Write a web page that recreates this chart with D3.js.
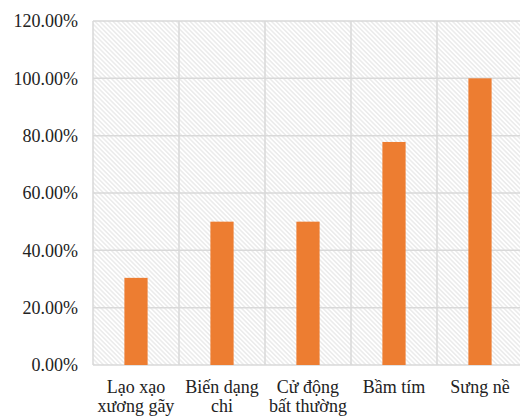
<!DOCTYPE html>
<html>
<head>
<meta charset="utf-8">
<script src="https://cdn.jsdelivr.net/npm/d3@7"></script>
</head>
<body style="margin:0">
<svg id="chart" width="520" height="417"></svg>
<script>
// Categories (two-line labels) and their percentages
const categories = [
  ["Lạo xạo", "xương gãy"],
  ["Biến dạng", "chi"],
  ["Cử động", "bất thường"],
  ["Bầm tím"],
  ["Sưng nề"]
];
const values = [30.4, 50, 50, 77.8, 100];
const yTicks = [0, 20, 40, 60, 80, 100, 120];

const FONT = "Liberation Serif";
const FONT_SIZE = 18;

const svg = d3.select("#chart");
const plot = { left: 93, top: 21, right: 523, bottom: 365 };

const x = d3.scaleBand()
  .domain(d3.range(categories.length))
  .range([plot.left, plot.right])
  .paddingInner(0).paddingOuter(0);

const y = d3.scaleLinear()
  .domain([0, 120])
  .range([plot.bottom, plot.top]);

// Diagonal hatch fill for the plot background
const defs = svg.append("defs");
const pat = defs.append("pattern")
  .attr("id", "hatch")
  .attr("patternUnits", "userSpaceOnUse")
  .attr("width", 3.2).attr("height", 3.2)
  .attr("patternTransform", "rotate(-45)");
pat.append("rect").attr("width", 3.2).attr("height", 3.2).attr("fill", "#fff");
pat.append("line")
  .attr("x1", 0.8).attr("y1", 0).attr("x2", 0.8).attr("y2", 3.2)
  .attr("stroke", "#e2e2e2").attr("stroke-width", 1);

svg.append("rect")
  .attr("x", plot.left).attr("y", plot.top)
  .attr("width", plot.right - plot.left)
  .attr("height", plot.bottom - plot.top)
  .attr("fill", "url(#hatch)");

// Horizontal gridlines
svg.append("g")
  .selectAll("line")
  .data(yTicks)
  .join("line")
  .attr("x1", plot.left).attr("x2", plot.right)
  .attr("y1", d => y(d)).attr("y2", d => y(d))
  .attr("stroke", "#d9d9d9").attr("stroke-width", 1.5);

// Vertical gridlines at category boundaries
const bounds = d3.range(categories.length + 1).map(i =>
  i < categories.length ? x(i) : x(categories.length - 1) + x.bandwidth());
svg.append("g")
  .selectAll("line")
  .data(bounds)
  .join("line")
  .attr("x1", d => d).attr("x2", d => d)
  .attr("y1", plot.top).attr("y2", plot.bottom)
  .attr("stroke", "#d9d9d9").attr("stroke-width", 1.5);

// Bars
const barW = x.bandwidth() * 0.27;
svg.append("g")
  .selectAll("rect")
  .data(values)
  .join("rect")
  .attr("x", (d, i) => x(i) + x.bandwidth() / 2 - barW / 2)
  .attr("y", d => y(d))
  .attr("width", barW)
  .attr("height", d => y(0) - y(d))
  .attr("fill", "#ED7D31");

// Y axis labels
const yAxis = d3.axisLeft(y)
  .tickValues(yTicks)
  .tickSize(0)
  .tickPadding(15)
  .tickFormat(d => d3.format(".2f")(d) + "%");
const gy = svg.append("g")
  .attr("transform", `translate(${plot.left},0)`)
  .call(yAxis);
gy.attr("font-family", null).attr("font-size", null);
gy.select(".domain").remove();
gy.selectAll("text")
  .attr("font-family", FONT)
  .attr("font-size", FONT_SIZE)
  .attr("fill", "#222");

// Category labels (multi-line)
const labels = svg.append("g")
  .selectAll("text")
  .data(categories)
  .join("text")
  .attr("font-family", FONT)
  .attr("font-size", FONT_SIZE)
  .attr("text-anchor", "middle")
  .attr("fill", "#222")
  .attr("x", (d, i) => x(i) + x.bandwidth() / 2)
  .attr("y", 393);
labels.selectAll("tspan")
  .data(d => d)
  .join("tspan")
  .attr("x", function () { return d3.select(this.parentNode).attr("x"); })
  .attr("dy", (d, i) => i === 0 ? 0 : 19)
  .text(d => d);
</script>
</body>
</html>
